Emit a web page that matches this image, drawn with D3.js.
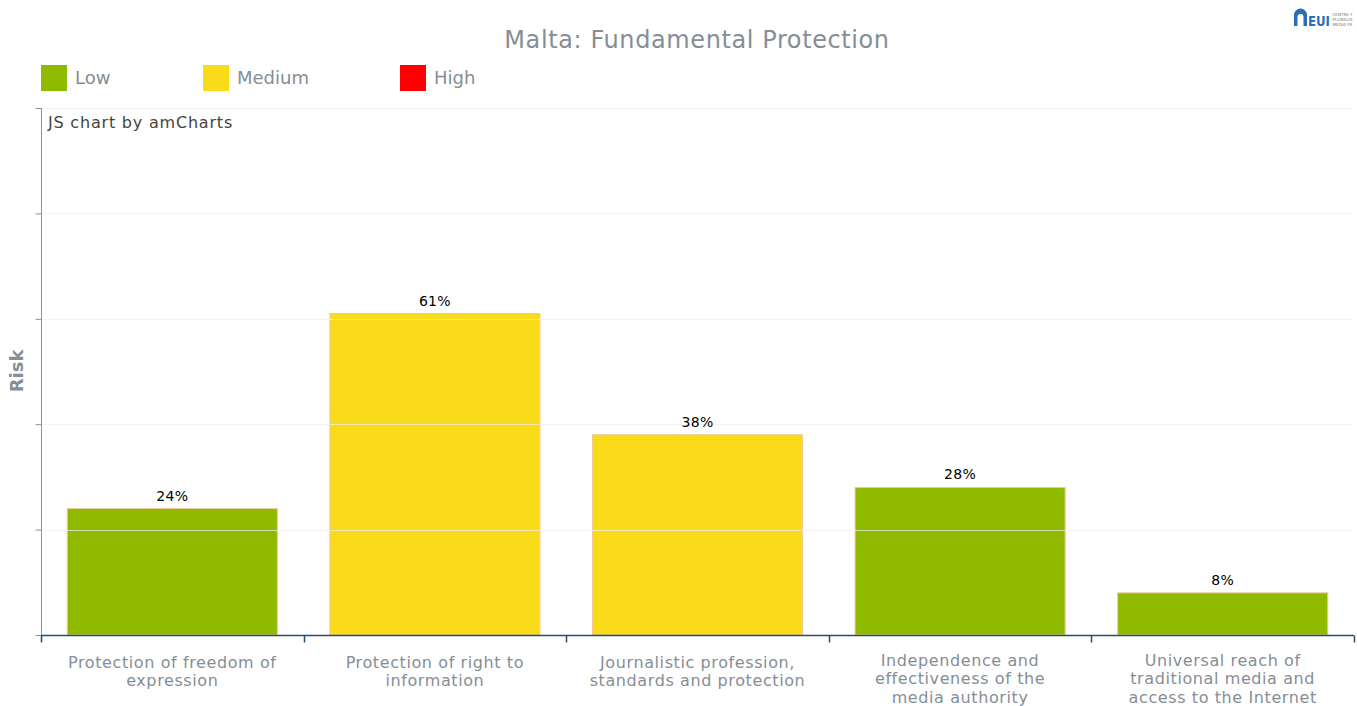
<!DOCTYPE html>
<html>
<head>
<meta charset="utf-8">
<script src="https://cdn.jsdelivr.net/npm/d3@7"></script>
<style>
  html, body { margin: 0; padding: 0; background: #fff; }
  svg { display: block; font-family: Verdana, "DejaVu Sans", sans-serif; }
</style>
</head>
<body>
<svg id="chart" width="1357" height="706"></svg>
<script>
const title = "Malta: Fundamental Protection";
const categories = [
  "Protection of freedom of expression",
  "Protection of right to information",
  "Journalistic profession, standards and protection",
  "Independence and effectiveness of the media authority",
  "Universal reach of traditional media and access to the Internet"
];
const values = [24, 61, 38, 28, 8];
const riskLevels = ["Low", "Medium", "Medium", "Low", "Low"];
const legendLabels = ["Low", "Medium", "High"];
const legendColors = ["#8fba00", "#fadb19", "#ff0000"];
const yTicks = [0, 20, 40, 60, 80, 100];
const yLabel = "Risk";

const svg = d3.select("#chart");
const W = 1357, H = 706;
const m = { left: 41, right: 3, top: 108, bottom: 71 };
const x0 = m.left, x1 = W - m.right, yTop = m.top, yBot = H - m.bottom;
const textGray = "#858e96";

const colorScale = d3.scaleOrdinal().domain(legendLabels).range(legendColors);
const x = d3.scaleBand().domain(categories).range([x0, x1]).paddingInner(0.2).paddingOuter(0.1);
const xOuter = d3.scaleBand().domain(categories).range([x0, x1]);
const y = d3.scaleLinear().domain([0, 100]).range([yBot, yTop]);

// Title
svg.append("text").attr("x", 697).attr("y", 48).attr("text-anchor", "middle")
  .attr("font-size", 24).attr("letter-spacing", 0.6).attr("fill", textGray).text(title);

// Legend
const legendX = [41, 203, 400];
const lg = svg.append("g").selectAll("g").data(legendLabels).join("g")
  .attr("transform", (d, i) => `translate(${legendX[i]},65)`);
lg.append("rect").attr("width", 26).attr("height", 26).attr("fill", d => colorScale(d));
lg.append("text").attr("x", 34).attr("y", 19).attr("font-size", 18).attr("fill", textGray).text(d => d);

// Bars
svg.append("g").selectAll("rect").data(categories).join("rect")
  .attr("x", d => x(d)).attr("width", x.bandwidth())
  .attr("y", (d, i) => y(values[i])).attr("height", (d, i) => yBot - y(values[i]))
  .attr("fill", (d, i) => colorScale(riskLevels[i]))
  .attr("stroke", "#f2c99a").attr("stroke-width", 1);

// Grid lines (over bars)
svg.append("g").selectAll("line").data(yTicks.filter(t => t > 0)).join("line")
  .attr("x1", x0).attr("x2", x1)
  .attr("y1", d => Math.round(y(d)) + 0.5).attr("y2", d => Math.round(y(d)) + 0.5)
  .attr("stroke", "#efefef").attr("stroke-opacity", 0.7).attr("stroke-width", 1);

// Y axis
const yAxis = d3.axisLeft(y).tickValues(yTicks).tickSize(6).tickFormat("");
const gy = svg.append("g").attr("transform", `translate(${x0 + 0.5},0)`).call(yAxis);
gy.select(".domain").attr("stroke", "#8a9299").attr("d", `M0,${yTop}V${yBot}`);
gy.selectAll(".tick line").attr("stroke", "#8a9299");

// X axis
const xAxis = d3.axisBottom(xOuter).tickSize(0).tickFormat("");
const gx = svg.append("g").attr("transform", `translate(0,${yBot + 0.5})`).call(xAxis);
gx.select(".domain").attr("stroke", "#1f4e79").attr("stroke-width", 1.5).attr("d", `M${x0},0H${x1}`);
const tickPos = categories.map(c => xOuter(c)).concat([x1]);
gx.append("g").selectAll("line").data(tickPos).join("line")
  .attr("x1", d => Math.round(d) + 0.5).attr("x2", d => Math.round(d) + 0.5)
  .attr("y1", 0).attr("y2", 7).attr("stroke", "#1f4e79").attr("stroke-width", 1.5);

// Value labels
svg.append("g").selectAll("text").data(categories).join("text")
  .attr("x", d => x(d) + x.bandwidth() / 2).attr("y", (d, i) => y(values[i]) - 8)
  .attr("text-anchor", "middle").attr("font-size", 14).attr("letter-spacing", 0.3).attr("fill", "#000")
  .text((d, i) => values[i] + "%");

// Category labels (wrapped)
const labels = svg.append("g").selectAll("text").data(categories).join("text")
  .attr("x", d => xOuter(d) + xOuter.bandwidth() / 2).attr("y", 667.5)
  .attr("text-anchor", "middle").attr("font-size", 16).attr("letter-spacing", 0.6).attr("fill", textGray);
labels.each(function(d) {
  const t = d3.select(this);
  const cx = +t.attr("x");
  const words = d.split(" ");
  let line = [], lines = [];
  const probe = t.append("tspan");
  words.forEach(w => {
    line.push(w);
    probe.text(line.join(" "));
    if (probe.node().getComputedTextLength() > 218 && line.length > 1) {
      line.pop();
      lines.push(line.join(" "));
      line = [w];
    }
  });
  lines.push(line.join(" "));
  probe.remove();
  const shift = lines.length > 2 ? -2 : 0;
  lines.forEach((l, i) => {
    t.append("tspan").attr("x", cx).attr("dy", i === 0 ? shift : 18.7).text(l);
  });
});

// Y label
svg.append("text").attr("transform", "translate(23,371) rotate(-90)")
  .attr("text-anchor", "middle").attr("font-size", 18).attr("font-weight", "bold")
  .attr("fill", textGray).text(yLabel);

// Credit
svg.append("text").attr("x", 48).attr("y", 128).attr("font-size", 16).attr("letter-spacing", 0.8).attr("fill", "#444")
  .text("JS chart by amCharts");

// Logo
const logo = svg.append("g").attr("transform", "translate(1294,8)");
logo.append("path").attr("d", "M0,18V7A6.5,6.5 0 0 1 13,7V18H9.5V9A3,3 0 0 0 3.5,9V18Z").attr("fill", "#2a6fb5");
logo.append("text").attr("x", 14).attr("y", 17.5).attr("font-size", 14).attr("font-weight", "bold")
  .attr("textLength", 22).attr("lengthAdjust", "spacingAndGlyphs")
  .attr("fill", "#2a6fb5").text("EUI");
["CENTRE F", "PLURALIS", "MEDIA FR"].forEach((s, i) => {
  logo.append("text").attr("x", 38.5).attr("y", 8 + i * 4.8).attr("font-size", 4.2)
    .attr("textLength", 20).attr("lengthAdjust", "spacingAndGlyphs").attr("fill", "#777").text(s);
});
</script>
</body>
</html>
